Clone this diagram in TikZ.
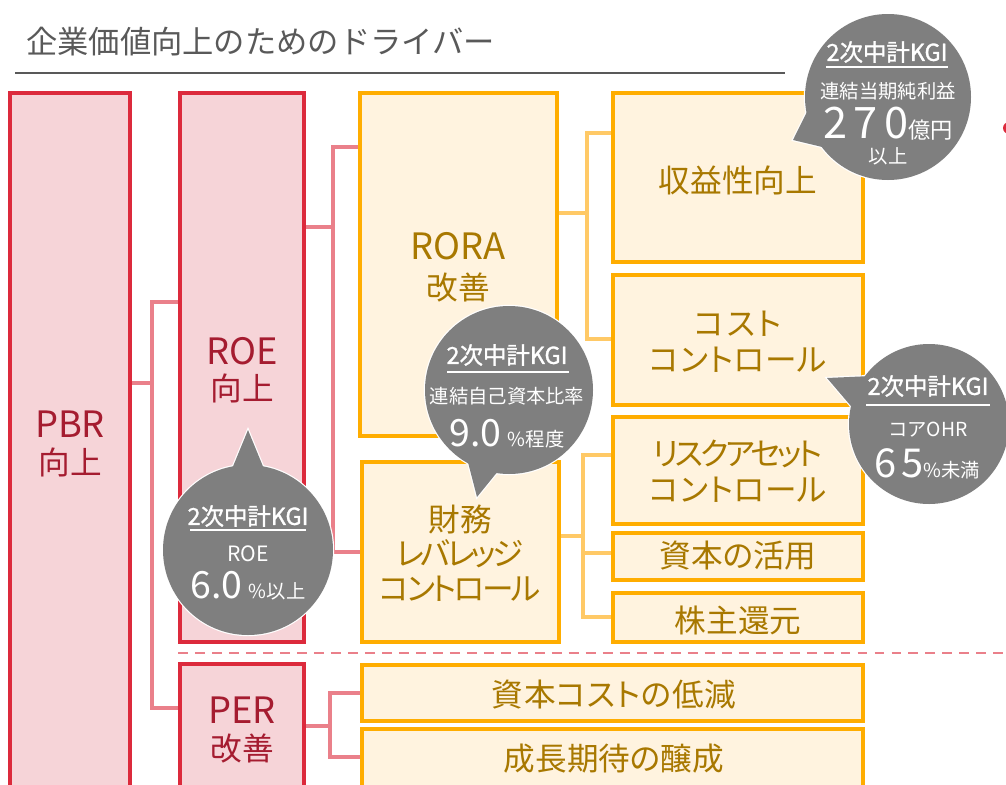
\documentclass[tikz,border=0pt]{standalone}
\usepackage{fontspec}
\setmainfont{Noto Sans CJK JP}
\usetikzlibrary{fit,calc}
\definecolor{redB}{HTML}{DC2A3C}
\definecolor{redF}{HTML}{F6D4D8}
\definecolor{redT}{HTML}{A51C30}
\definecolor{redL}{HTML}{EA808A}
\definecolor{orB}{HTML}{FFAD00}
\definecolor{orF}{HTML}{FFF3DF}
\definecolor{orT}{HTML}{A87800}
\definecolor{orL}{HTML}{FFC966}
\definecolor{titleC}{HTML}{595959}
\definecolor{bub}{HTML}{7F7F7F}
\newcommand{\Lt}[1]{{\fontsize{31}{32}\selectfont #1}}
\newcommand{\Ls}[2]{{\addfontfeatures{LetterSpace=#1}#2}}
\begin{document}
\begin{tikzpicture}[x=0.03cm,y=-0.03cm,
  redbox/.style={draw=redB, fill=redF, line width=3.2pt, inner sep=0pt},
  orbox/.style={draw=orB, fill=orF, line width=3.2pt, inner sep=0pt},
  rtxt/.style={text=redT, align=center, inner sep=0pt, font=\fontsize{27}{31}\selectfont\addfontfeatures{RawFeature=+palt}},
  otxt/.style={text=orT, align=center, inner sep=0pt, font=\fontsize{27}{31}\selectfont\addfontfeatures{RawFeature=+palt}},
  redline/.style={draw=redL, line width=3pt},
  orline/.style={draw=orL, line width=3pt},
  bubedge/.style={fill=bub, draw=white, line width=2pt},
  btitle/.style={text=white, inner sep=0pt, font=\fontsize{20}{22}\selectfont\addfontfeatures{FakeBold=1.2}},
  bsub/.style={text=white, inner sep=0pt, font=\fontsize{16.5}{18}\selectfont},
  bnum/.style={text=white, inner sep=0pt, font=\fontsize{32}{36}\selectfont},
  uline/.style={draw=white, line width=1pt}
]
\useasboundingbox (0,0) rectangle (1006,785);
\clip (0,0) rectangle (1006,785);

% title
\node[anchor=west, inner sep=0pt, text=titleC, font=\fontsize{26.7}{30}\selectfont] (title) at (26,42) {企業価値向上のためのドライバー};
\coordinate (tl1) at (15,73);
\coordinate (tl2) at (785,73);
\draw[titleC, line width=1.5pt] (tl1) -- (tl2);

% boxes
\node[redbox, fit={(10,93)(130,800)}] (pbr) {};
\node[redbox, fit={(180,93)(304,642)}] (roe) {};
\node[redbox, fit={(180,664)(304,800)}] (per) {};
\node[orbox, fit={(360,93)(557,436)}] (rora) {};
\node[orbox, fit={(362,462)(559,642)}] (zaimu) {};
\node[orbox, fit={(613,93)(863,262)}] (shueki) {};
\node[orbox, fit={(613,275)(863,405)}] (cost) {};
\node[orbox, fit={(613,417)(863,524)}] (risk) {};
\node[orbox, fit={(613,533)(863,580)}] (katsuyo) {};
\node[orbox, fit={(613,593)(863,642)}] (kabu) {};
\node[orbox, fit={(362,665)(863,721)}] (cost2) {};
\node[orbox, fit={(362,729)(863,790)}] (seicho) {};

% box texts
\node[rtxt] (pbrT) at (70,444) {\Lt{PBR}\\向上};
\node[rtxt] (roeT) at (242,370) {\Lt{ROE}\\向上};
\node[rtxt] (perT) at (242,730) {\Lt{PER}\\改善};
\node[otxt, font=\fontsize{27}{34}\selectfont] (roraT) at (458,267) {\Lt{RORA}\\改善};
\node[otxt, font=\fontsize{27}{29.5}\selectfont\addfontfeatures{RawFeature=+palt}] (zaimuT) at (460,553) {財務\\\Ls{-11}{レバレッジ}\\\Ls{-8}{コントロール}};
\node[otxt] (shuekiT) at (738,180) {収益性向上};
\node[otxt] (costT) at (738,342) {\Ls{8}{コスト}\\\Ls{2}{コントロール}};
\node[otxt] (riskT) at (738,471) {\Ls{-11}{リスクアセット}\\\Ls{2}{コントロール}};
\node[otxt] (katsuyoT) at (738,556) {資本の活用};
\node[otxt] (kabuT) at (738,620) {株主還元};
\node[otxt] (cost2T) at (614,695) {\Ls{2}{資本コストの低減}};
\node[otxt] (seichoT) at (614,759) {成長期待の醸成};

% dashed separator
\coordinate (d1) at (178,653);
\coordinate (d2) at (1006,653);
\draw[redL, line width=2pt, dash pattern=on 8.5pt off 6pt] (d1) -- (d2);

% connectors PBR
\coordinate (jA) at (152,383);
\draw[redline] (pbr.east |- jA) -- (jA);
\draw[redline] (roe.west |- 0,302) -| (152,708) -- (per.west |- 0,708);
% ROE
\coordinate (jB) at (333,227);
\draw[redline] (roe.east |- jB) -- (jB);
\draw[redline] (rora.west |- 0,147) -| (333,552) -- (zaimu.west |- 0,552);
% RORA
\coordinate (jC) at (587,213);
\draw[orline] (rora.east |- jC) -- (jC);
\draw[orline] (shueki.west |- 0,133) -| (587,339) -- (cost.west |- 0,339);
% zaimu
\coordinate (jD) at (583,536);
\draw[orline] (zaimu.east |- jD) -- (jD);
\draw[orline] (risk.west |- 0,455) -| (583,617) -- (kabu.west |- 0,617);
\draw[orline] (583,553) -- (katsuyo.west |- 0,553);
% PER
\coordinate (jE) at (330,726);
\draw[redline] (per.east |- jE) -- (jE);
\draw[redline] (cost2.west |- 0,693) -| (330,757) -- (seicho.west |- 0,757);

% red dot at right edge
\fill[redB] (1009,128) circle[radius=6];

% bubble 1
\path[bubedge] (888,97) circle[radius=83];
\path[bubedge] (793,140) -- ($(888,97)+(135:75)$) -- ($(888,97)+(178:75)$) -- cycle;
\fill[bub] (888,97) circle[radius=83];
\fill[bub] (793,140) -- ($(888,97)+(135:75)$) -- ($(888,97)+(178:75)$) -- cycle;
% bubble 2
\path[bubedge] (509,390) circle[radius=84];
\path[bubedge] (477,497) -- ($(509,390)+(95:76)$) -- ($(509,390)+(125:76)$) -- cycle;
\fill[bub] (509,390) circle[radius=84];
\fill[bub] (477,497) -- ($(509,390)+(95:76)$) -- ($(509,390)+(125:76)$) -- cycle;
% bubble 3
\path[bubedge] (929,424) circle[radius=80];
\path[bubedge] (827,378) -- ($(929,424)+(188:72)$) -- ($(929,424)+(222:72)$) -- cycle;
\fill[bub] (929,424) circle[radius=80];
\fill[bub] (827,378) -- ($(929,424)+(188:72)$) -- ($(929,424)+(222:72)$) -- cycle;
% bubble 4
\path[bubedge] (248,550) circle[radius=85];
\path[bubedge] (248,430) -- ($(248,550)+(256:77)$) -- ($(248,550)+(284:77)$) -- cycle;
\fill[bub] (248,550) circle[radius=85];
\fill[bub] (248,430) -- ($(248,550)+(256:77)$) -- ($(248,550)+(284:77)$) -- cycle;

% bubble texts
\node[btitle] (b1t) at (887,52) {2次中計KGI};
\draw[uline] (826,67) -- (948,67);
\node[bsub] (b1s) at (888,91) {連結当期純利益};
\node[bnum, font=\fontsize{37}{40}\selectfont\addfontfeatures{LetterSpace=15}] (b1n) at (888,124) {270{\fontsize{19}{20}\selectfont\addfontfeatures{LetterSpace=0}億円}};
\node[bsub] (b1u) at (888,156) {以上};

\node[btitle] (b2t) at (507,355) {2次中計KGI};
\draw[uline] (447,372) -- (569,372);
\node[bsub] (b2s) at (507,396) {連結自己資本比率};
\node[bnum] (b2n) at (507,434) {9.0\,{\fontsize{16.5}{20}\selectfont \%程度}};

\node[btitle] (b3t) at (928,386) {2次中計KGI};
\draw[uline] (866,405) -- (990,405);
\node[bsub] (b3s) at (928,430) {コアOHR};
\node[bnum, font=\fontsize{34}{36}\selectfont\addfontfeatures{LetterSpace=12}] (b3n) at (927,464) {65{\fontsize{16.5}{20}\selectfont\addfontfeatures{LetterSpace=0}\%未満}};

\node[btitle] (b4t) at (248,516) {2次中計KGI};
\draw[uline] (190,530) -- (306,530);
\node[bsub, font=\fontsize{18}{20}\selectfont] (b4s) at (248,554) {ROE};
\node[bnum] (b4n) at (248,586) {6.0\,{\fontsize{16.5}{20}\selectfont \%以上}};
\end{tikzpicture}
\end{document}
